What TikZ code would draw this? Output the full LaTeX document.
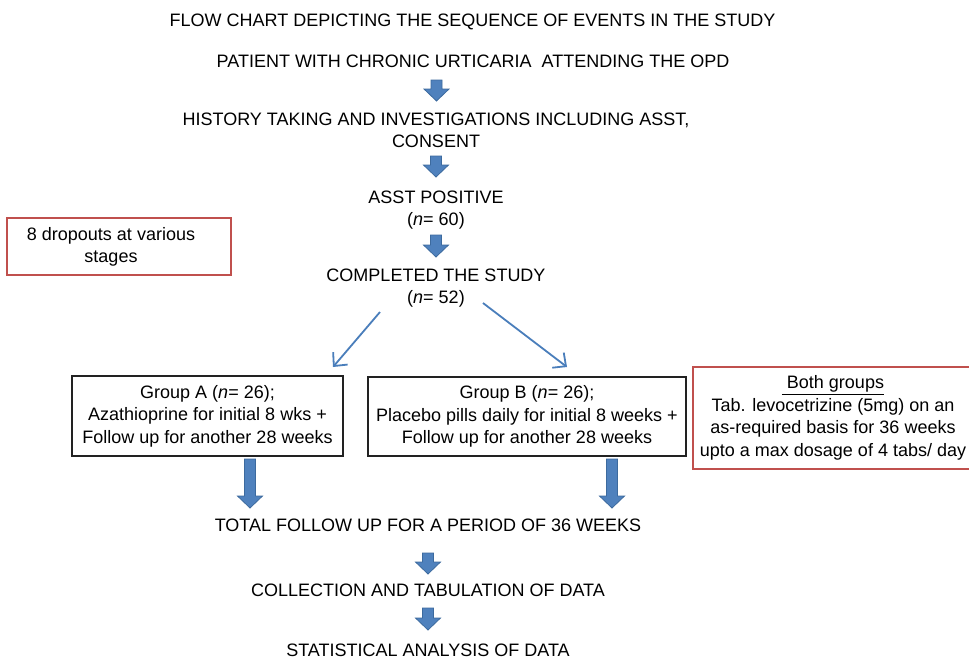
\documentclass[tikz,border=0pt]{standalone}
\usepackage{fontspec}
\setmainfont{Liberation Sans}
\usetikzlibrary{arrows.meta}
\definecolor{arrblue}{HTML}{4F81BD}
\definecolor{arredge}{HTML}{3C6A9E}
\definecolor{thinblue}{HTML}{4A7EBB}
\definecolor{boxred}{HTML}{C0504D}
\definecolor{boxblack}{HTML}{222222}
% x, ytop, ytip, shaft half-width, head half-width, head length
\newcommand\blockarrow[6]{%
  \filldraw[blockarr] (#1-#4,#2) -- (#1+#4,#2) -- (#1+#4,#3-#6) -- (#1+#5,#3-#6)
    -- (#1,#3) -- (#1-#5,#3-#6) -- (#1-#4,#3-#6) -- cycle;}
\begin{document}
\begin{tikzpicture}[x=1pt,y=-1pt,
  txt/.style={font=\fontsize{18}{22.5}\selectfont, align=center, inner sep=0pt, anchor=base},
  blockarr/.style={fill=arrblue, draw=arredge, line width=0.8pt, line join=miter},
  thinarr/.style={draw=thinblue, line width=1.8pt, -{Straight Barb[length=10pt,width=19pt,line width=1.8pt]}},
  blackbox/.style={draw=boxblack, line width=2pt, inner sep=0pt, font=\fontsize{18}{22.5}\selectfont, align=center},
  redbox/.style={draw=boxred, line width=2pt, inner sep=0pt, font=\fontsize{18}{22.5}\selectfont, align=center}]
\useasboundingbox (0,0) rectangle (969,659);
\clip (0,0) rectangle (969,659);
\fill[white] (0,0) rectangle (969,659);

\node[txt] (title) at (472.5,26.5) {FLOW CHART DEPICTING THE SEQUENCE OF EVENTS IN THE STUDY};
\node[txt] (patient) at (473,67.5) {PATIENT WITH CHRONIC URTICARIA \ ATTENDING THE OPD};
\node[txt] (history) at (436,147.5) {HISTORY TAKING AND INVESTIGATIONS INCLUDING ASST,\\CONSENT};
\node[txt] (asst) at (436,225.5) {ASST POSITIVE\\(\textit{n}= 60)};
\node[txt] (completed) at (436,303.5) {COMPLETED THE STUDY\\(\textit{n}= 52)};

\node[redbox, minimum width=224pt, minimum height=57pt] (dropbox) at (119,246) {};
\node[txt] (droptext) at (111,262.5) {8 dropouts at various\\stages};

\node[blackbox, minimum width=271pt, minimum height=80pt] (groupA) at (207.5,416)
  {\rule{0pt}{3pt}Group A (\textit{n}= 26);\\Azathioprine for initial 8 wks +\\Follow up for another 28 weeks};
\node[blackbox, minimum width=318pt, minimum height=79pt] (groupB) at (527,416.5)
  {\rule{0pt}{3pt}Group B (\textit{n}= 26);\\Placebo pills daily for initial 8 weeks +\\Follow up for another 28 weeks};
\node[redbox, minimum width=280pt, minimum height=102pt] (both) at (833,418)
  {\underline{\ Both groups}\\Tab. levocetrizine (5mg) on an\\as-required basis for 36 weeks\\upto a max dosage of 4 tabs/ day};

\node[txt] (total) at (428,531.5) {TOTAL FOLLOW UP FOR A PERIOD OF 36 WEEKS};
\node[txt] (collection) at (428,596.5) {COLLECTION AND TABULATION OF DATA};
\node[txt] (stats) at (428,656.5) {STATISTICAL ANALYSIS OF DATA};

% block arrows
\blockarrow{436.5}{80}{101}{5.5}{12.5}{12}
\blockarrow{436}{156}{177}{5.5}{12.5}{12}
\blockarrow{436}{235}{257}{5.5}{12.5}{12}
\blockarrow{250}{459}{508}{5.5}{12.5}{12}
\blockarrow{612}{459}{508}{5.5}{12.5}{12}
\blockarrow{428}{553}{574}{5.5}{12.5}{12}
\blockarrow{428}{608}{630}{5.5}{12.5}{12}

% thin arrows from COMPLETED to the groups
\coordinate (startA) at (380,312);
\coordinate (endA) at (333,367);
\coordinate (startB) at (483,303);
\coordinate (endB) at (567,367);
\draw[thinarr] (startA) -- (endA);
\draw[thinarr] (startB) -- (endB);
\end{tikzpicture}
\end{document}
